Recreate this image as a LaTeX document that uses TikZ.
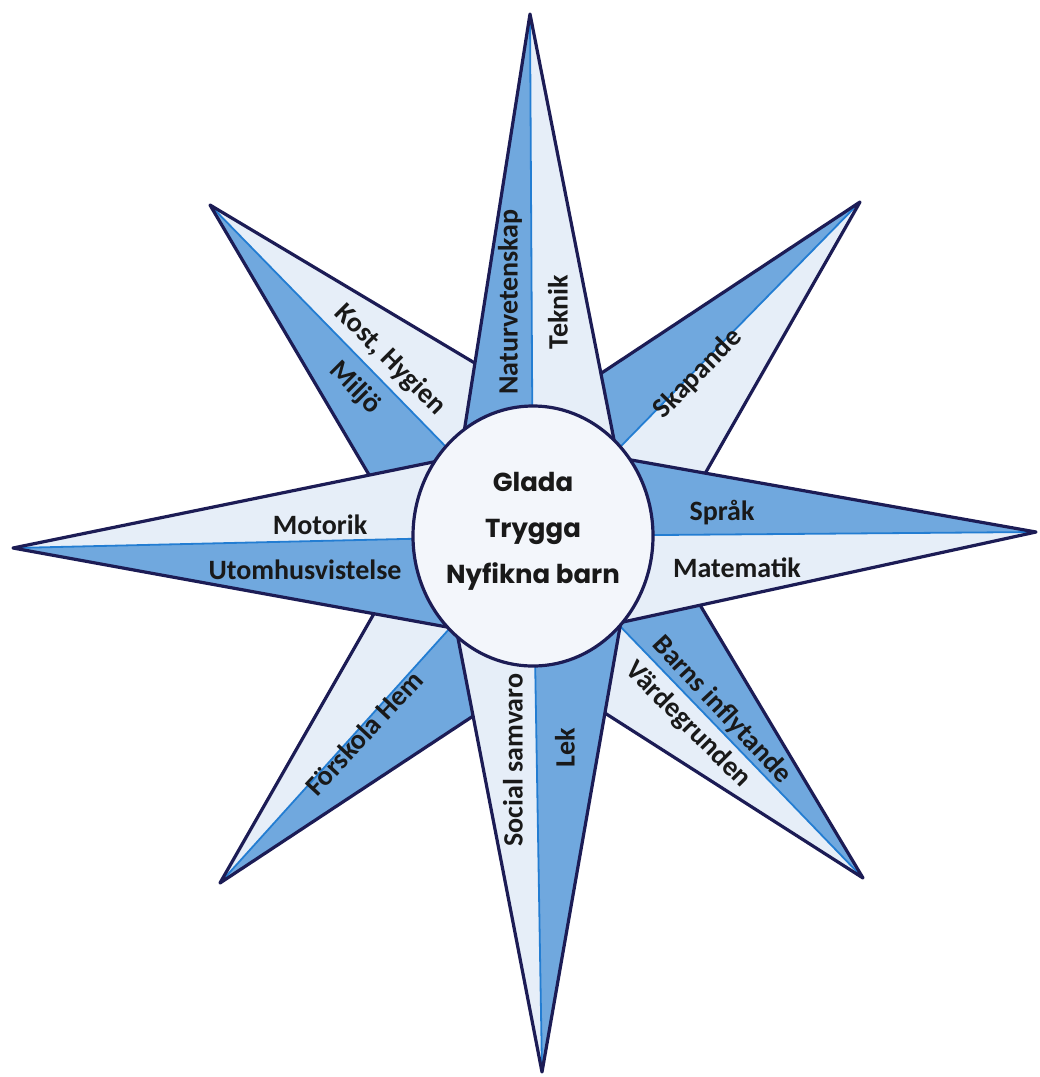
\documentclass[tikz,border=0pt]{standalone}
\usepackage{fontspec}
\setmainfont{Carlito}
\newfontfamily\hubfont{Poppins}
\usetikzlibrary{calc,shapes.geometric}
\definecolor{edgecol}{RGB}{28,28,85}
\definecolor{darkfill}{RGB}{112,168,222}
\definecolor{lightfill}{RGB}{230,238,248}
\definecolor{midline}{RGB}{35,125,210}
\definecolor{disc}{RGB}{243,246,251}
\begin{document}
\begin{tikzpicture}[x=1pt,y=-1pt,
  rayedge/.style={draw=edgecol,line width=3.2pt,line cap=round,line join=round},
  ridge/.style={draw=midline,line width=1.8pt},
  darkhalf/.style={fill=darkfill},
  lighthalf/.style={fill=lightfill},
  lbl/.style={font=\bfseries\fontsize{28}{30}\selectfont,inner sep=0pt,text=black!90}]
\useasboundingbox (0,0) rectangle (1040,1077);
\fill[white] (0,0) rectangle (1040,1077);
\coordinate (C) at (533,536);
% main rays
\coordinate (Tt) at (530,14);
\coordinate (Tl) at ($(Tt)!1.08!(462,445)$);
\coordinate (Tr) at ($(Tt)!1.08!(617,455)$);
\coordinate (Bt) at (542,1072);
\coordinate (Bl) at ($(Bt)!1.08!(457,633)$);
\coordinate (Br) at ($(Bt)!1.08!(620,627)$);
\coordinate (Lt) at (13,548);
\coordinate (Lu) at ($(Lt)!1.08!(443,460)$);
\coordinate (Ll) at ($(Lt)!1.08!(447,627)$);
\coordinate (Rt) at (1036,532);
\coordinate (Ru) at ($(Rt)!1.08!(620,458)$);
\coordinate (Rl) at ($(Rt)!1.08!(623,622)$);
% diagonal rays
\coordinate (ULt) at (210,205);
\coordinate (ULm1) at (473,362);
\coordinate (ULm2) at (365,468);
\coordinate (ULa) at (intersection of ULt--ULm1 and Tt--Tl);
\coordinate (ULb) at (intersection of ULt--ULm2 and Lt--Lu);
\coordinate (URt) at (860,202);
\coordinate (URm1) at (603,372);
\coordinate (URm2) at (707,470);
\coordinate (URa) at (intersection of URt--URm1 and Tt--Tr);
\coordinate (URb) at (intersection of URt--URm2 and Rt--Ru);
\coordinate (LLt) at (220,883);
\coordinate (LLm1) at (372,617);
\coordinate (LLm2) at (470,718);
\coordinate (LLa) at (intersection of LLt--LLm1 and Lt--Ll);
\coordinate (LLb) at (intersection of LLt--LLm2 and Bt--Bl);
\coordinate (LRt) at (863,878);
\coordinate (LRm1) at (703,610);
\coordinate (LRm2) at (608,715);
\coordinate (LRa) at (intersection of LRt--LRm1 and Rt--Rl);
\coordinate (LRb) at (intersection of LRt--LRm2 and Bt--Br);
% diagonal ray fills
\path[lighthalf] (ULt) -- (ULa) -- (C) -- cycle;
\path[darkhalf] (ULt) -- (C) -- (ULb) -- cycle;
\path[darkhalf] (URt) -- (URa) -- (C) -- cycle;
\path[lighthalf] (URt) -- (C) -- (URb) -- cycle;
\path[darkhalf] (LRt) -- (LRa) -- (C) -- cycle;
\path[lighthalf] (LRt) -- (C) -- (LRb) -- cycle;
\path[lighthalf] (LLt) -- (LLa) -- (C) -- cycle;
\path[darkhalf] (LLt) -- (C) -- (LLb) -- cycle;
\foreach \p in {UL,UR,LL,LR}{
  \draw[ridge] (\p t) -- (C);
  \draw[rayedge] (\p a) -- (\p t) -- (\p b);
}
% main ray fills
\path[darkhalf] (Tt) -- (Tl) -- (C) -- cycle;
\path[lighthalf] (Tt) -- (C) -- (Tr) -- cycle;
\path[darkhalf] (Rt) -- (Ru) -- (C) -- cycle;
\path[lighthalf] (Rt) -- (C) -- (Rl) -- cycle;
\path[lighthalf] (Bt) -- (Bl) -- (C) -- cycle;
\path[darkhalf] (Bt) -- (C) -- (Br) -- cycle;
\path[lighthalf] (Lt) -- (Lu) -- (C) -- cycle;
\path[darkhalf] (Lt) -- (C) -- (Ll) -- cycle;
\draw[ridge] (Tt) -- (C);
\draw[ridge] (Bt) -- (C);
\draw[ridge] (Lt) -- (C);
\draw[ridge] (Rt) -- (C);
\draw[rayedge] (Tl) -- (Tt) -- (Tr);
\draw[rayedge] (Bl) -- (Bt) -- (Br);
\draw[rayedge] (Lu) -- (Lt) -- (Ll);
\draw[rayedge] (Ru) -- (Rt) -- (Rl);
% hub
\node[ellipse,draw=edgecol,line width=3.2pt,fill=disc,minimum width=240pt,minimum height=260pt,inner sep=0pt] (hub) at (C) {};
\node[font=\hubfont\bfseries\fontsize{26}{46}\selectfont,align=center,inner sep=0pt,text=black!90] (hubtext) at (533,531) {Glada\\Trygga\\Nyfikna barn};
% labels
\node[lbl,rotate=90] (tNat) at (510,302) {Naturvetenskap};
\node[lbl,rotate=90] (tTek) at (558,312) {Teknik};
\node[lbl,rotate=-45] (tKost) at (390,360) {Kost, Hygien};
\node[lbl,rotate=-45] (tMil) at (355,388) {Miljö};
\node[lbl,rotate=45.6] (tSka) at (698,374) {Skapande};
\node[lbl] (tMot) at (320,525) {Motorik};
\node[lbl] (tUto) at (305,570) {Utomhusvistelse};
\node[lbl] (tSpr) at (722,513) {Språk};
\node[lbl] (tMat) at (737,568) {Matematik};
\node[lbl,rotate=47] (tFor) at (364,733) {Förskola Hem};
\node[lbl,rotate=-47] (tBarn) at (722,710) {Barns inflytande};
\node[lbl,rotate=-45] (tVar) at (688,725) {Värdegrunden};
\node[lbl,rotate=90] (tSoc) at (513,760) {Social samvaro};
\node[lbl,rotate=90] (tLek) at (565,748) {Lek};
\end{tikzpicture}
\end{document}
